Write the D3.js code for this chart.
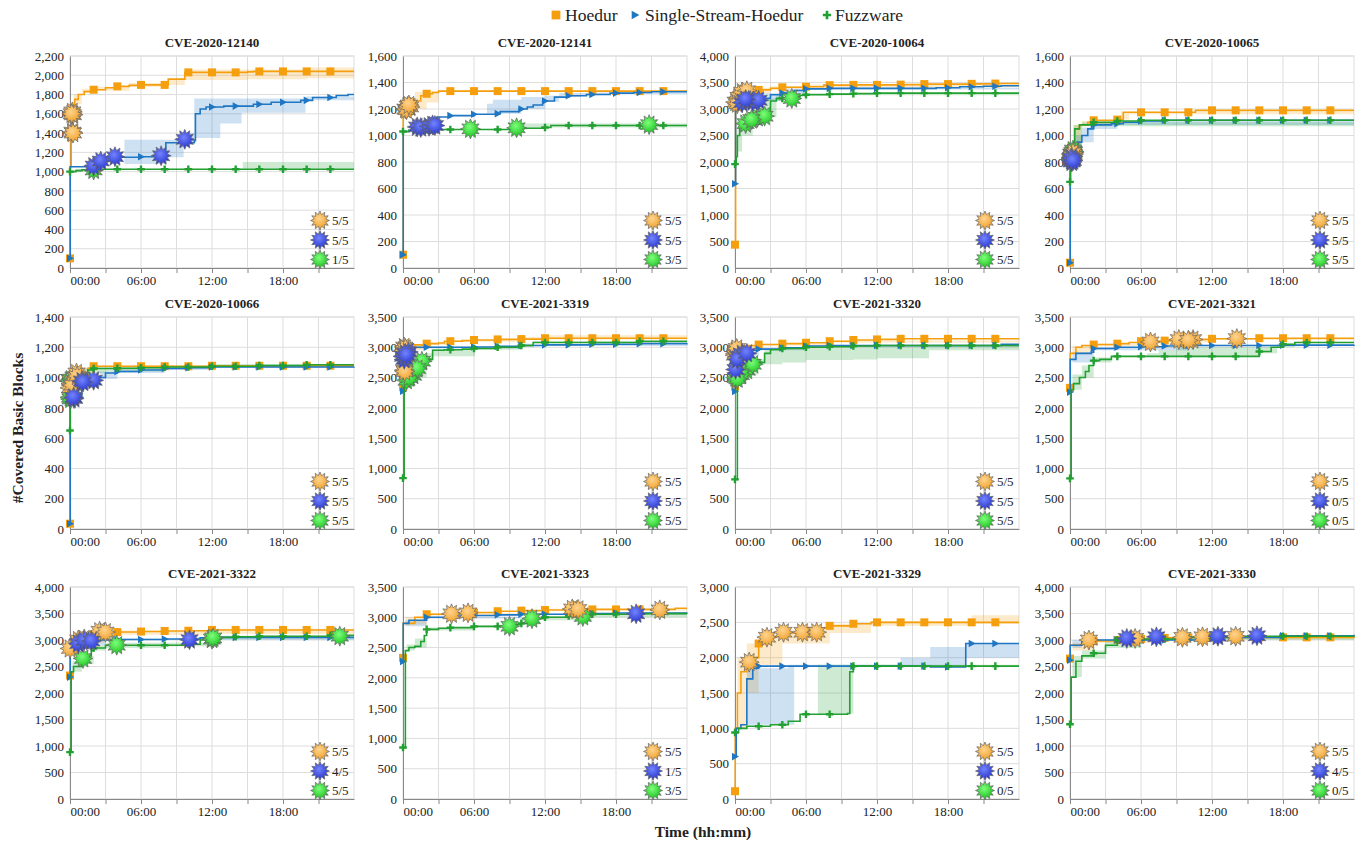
<!DOCTYPE html>
<html>
<head>
<meta charset="utf-8">
<script src="https://cdn.jsdelivr.net/npm/d3@7"></script>
<style>
body { margin: 0; background: #fff; }
svg, svg text { font-family: "Liberation Serif", "DejaVu Serif", "Times New Roman", serif; }
svg text { fill: #222; }
</style>
</head>
<body>
<svg id="chart" width="1361" height="841" font-family="Liberation Serif, DejaVu Serif, serif"></svg>
<script>
// ---- data (hours, covered basic blocks) ----
var panelNames = ['CVE-2020-12140', 'CVE-2020-12141', 'CVE-2020-10064', 'CVE-2020-10065',
  'CVE-2020-10066', 'CVE-2021-3319', 'CVE-2021-3320', 'CVE-2021-3321',
  'CVE-2021-3322', 'CVE-2021-3323', 'CVE-2021-3329', 'CVE-2021-3330'];
var yMaxes = [2200, 1600, 4000, 1600, 1400, 3500, 3500, 3500, 4000, 3500, 3000, 4000];
var ySteps = [200, 200, 500, 200, 200, 500, 500, 500, 500, 500, 500, 500];
var seriesNames = ['Hoedur', 'Single-Stream-Hoedur', 'Fuzzware'];
var xTickHours = [0, 3, 6, 9, 12, 15, 18, 21];
var markerHours = [0, 2, 4, 6, 8, 10, 12, 14, 16, 18, 20, 22];

// median coverage lines [hour, value]
var hoedurLines = [
  [[0,100],[0.02,1050],[0.1,1400],[0.2,1600],[0.4,1750],[0.7,1800],[1.2,1830],[2,1850],[3,1870],[4,1885],[5,1895],[6,1900],[8.3,1960],[9.7,2030],[15,2035],[15.5,2040],[24,2040]],
  [[0,100],[0.02,1200],[0.5,1220],[1,1260],[1.5,1300],[2,1315],[2.5,1325],[3,1335],[24,1335]],
  [[0,440],[0.05,3100],[0.3,3250],[0.7,3330],[1.2,3350],[2,3360],[3,3390],[4,3410],[6,3420],[7.5,3450],[10,3455],[14,3460],[16,3470],[20,3475],[22,3480],[24,3480]],
  [[0,40],[0.02,800],[0.2,900],[0.4,1050],[0.8,1080],[1.5,1100],[2,1115],[4,1120],[4.5,1175],[10.6,1190],[24,1190]],
  [[0,35],[0.02,900],[0.3,950],[0.5,1000],[1,1030],[1.5,1060],[1.9,1075],[12,1078],[24,1078]],
  [[0,2340],[0.02,2900],[0.3,3000],[1,3040],[2,3060],[3,3070],[3.5,3100],[5,3110],[6,3120],[8,3130],[10,3135],[12,3150],[24,3150]],
  [[0,2350],[0.02,2950],[0.5,3000],[1,3030],[2,3045],[4,3060],[6,3075],[8,3100],[10,3120],[12,3130],[14,3140],[24,3145]],
  [[0,2330],[0.02,2900],[0.5,3000],[1,3030],[2,3045],[4,3060],[5,3080],[6,3100],[8,3110],[10,3130],[12,3140],[16,3150],[24,3150]],
  [[0,2330],[0.02,2800],[0.5,2900],[1,3000],[1.5,3050],[2,3100],[3,3150],[6,3160],[8,3170],[10,3175],[12,3190],[24,3190]],
  [[0,2330],[0.02,2900],[1,3000],[2,3050],[4,3070],[6,3080],[8,3100],[10,3110],[12,3120],[14,3130],[23,3150],[24,3150]],
  [[0,110],[0.02,1000],[0.2,1500],[0.5,1800],[1,1900],[1.5,2000],[2,2200],[3,2300],[4,2350],[6,2380],[7,2420],[8,2450],[10,2480],[11.5,2500],[24,2500]],
  [[0,2650],[0.02,2900],[1,2950],[2,2980],[4,3000],[6,3020],[8,3040],[10,3050],[24,3060]]
];
var sshLines = [
  [[0,100],[0.02,1050],[1.5,1060],[2,1080],[2.3,1110],[3,1140],[4,1150],[6,1155],[7.9,1160],[8.1,1300],[10.5,1320],[10.6,1600],[11,1650],[11.5,1670],[13,1680],[15.5,1700],[17,1720],[19.5,1740],[20.5,1770],[22.5,1790],[23.5,1800],[24,1800]],
  [[0,100],[0.02,1030],[0.5,1040],[1.5,1050],[2.5,1070],[2.9,1140],[4,1150],[6,1160],[7.8,1165],[8.2,1180],[9.8,1200],[10.5,1215],[11,1230],[11.8,1260],[12.8,1290],[14,1300],[15.5,1310],[17.5,1320],[19.5,1325],[21,1330],[24,1330]],
  [[0,1590],[0.05,3000],[0.3,3100],[1,3150],[2,3200],[3,3270],[4,3300],[5,3350],[6,3380],[8,3390],[17,3400],[19,3420],[21,3430],[22.5,3440],[24,3440]],
  [[0,40],[0.02,800],[0.3,900],[0.6,950],[1,1000],[1.5,1050],[2,1080],[3.5,1090],[4.5,1100],[6,1110],[8,1115],[24,1115]],
  [[0,35],[0.02,850],[0.5,870],[1,950],[2,980],[2.5,1000],[3,1030],[4,1040],[6,1050],[8,1060],[10,1065],[12,1070],[24,1072]],
  [[0,2275],[0.05,2950],[1,3000],[6,3005],[8,3015],[10,3030],[12,3040],[16,3050],[20,3060],[24,3065]],
  [[0,2270],[0.02,2900],[1,2950],[2,2970],[4,2990],[6,3020],[8,3030],[22.5,3050],[24,3050]],
  [[0,2260],[0.02,2800],[0.5,2900],[1.8,2920],[2,2980],[4,3000],[6,3010],[8,3020],[10,3030],[18,3035],[24,3040]],
  [[0,2300],[0.02,3000],[4,3010],[8,3020],[11,3040],[12,3050],[24,3050]],
  [[0,2270],[0.02,2900],[0.5,2950],[2,3000],[4,3020],[6,3030],[8,3040],[10,3050],[16,3060],[18,3070],[24,3080]],
  [[0,600],[0.1,1000],[0.5,1050],[1,1700],[1.5,1850],[2,1880],[16.5,1870],[19.5,2200],[24,2200]],
  [[0,2620],[0.02,2900],[1,3000],[12,3050],[18,3080],[24,3100]]
];
var fuzzLines = [
  [[0,1000],[0.5,1010],[1,1020],[2,1025],[24,1025]],
  [[0,1030],[0.5,1040],[2,1045],[9.5,1055],[12,1060],[12.5,1075],[24,1075]],
  [[0,1960],[0.1,2100],[0.2,2500],[0.4,2650],[0.7,2720],[1,2750],[1.4,2800],[2,2850],[2.5,2900],[3,3150],[3.5,3200],[4.5,3230],[5.5,3260],[6,3270],[8,3280],[10,3290],[12,3300],[24,3300]],
  [[0,650],[0.05,850],[0.2,900],[0.4,1050],[0.8,1080],[2,1100],[4,1110],[6,1115],[24,1115]],
  [[0,650],[0.02,850],[0.3,980],[0.8,1000],[1.5,1050],[2,1060],[4,1062],[6,1065],[8,1070],[12,1075],[16,1080],[20,1085],[24,1085]],
  [[0,840],[0.1,2400],[0.5,2450],[1,2550],[1.5,2700],[2,2800],[2.5,2950],[3.5,2960],[5,2970],[6,2980],[8,3000],[10,3030],[11,3080],[20,3100],[24,3100]],
  [[0,820],[0.2,2450],[0.5,2500],[1,2600],[1.5,2700],[2,2750],[2.5,2900],[3,2960],[4,2980],[6,3000],[8,3010],[10,3020],[12,3030],[24,3030]],
  [[0,836],[0.1,2300],[0.3,2400],[0.8,2500],[1.3,2600],[1.6,2700],[2,2780],[2.5,2800],[3.5,2850],[15.5,2850],[16,2930],[17,3000],[18,3050],[19,3080],[24,3080]],
  [[0,884],[0.1,2400],[0.3,2500],[1,2600],[1.5,2700],[1.8,2800],[2,2850],[3,2900],[10,2920],[11,3000],[12,3050],[14,3060],[16,3070],[22,3090],[24,3090]],
  [[0,849],[0.2,2450],[0.5,2500],[1,2520],[1.5,2600],[1.8,2700],[2,2800],[3,2820],[4,2830],[6,2850],[9,2880],[10,2900],[10.5,2980],[12,3000],[14,3020],[16,3050],[20,3060],[24,3060]],
  [[0,940],[0.3,1000],[1,1030],[3,1050],[4.5,1100],[5.5,1200],[9.5,1210],[9.7,1800],[10,1880],[24,1880]],
  [[0,1410],[0.1,2300],[0.5,2600],[1,2700],[2,2750],[3,2900],[4,3000],[6,3020],[10,3050],[14,3070],[24,3080]]
];

// min/max bands over the runs [hour, low, high]
var hoedurBands = [
  [[0.3,1700,1800],[1,1820,1860],[2,1840,1880],[5,1880,1920],[8.3,1900,1960],[9.7,1950,2060],[15,1960,2060],[20,1970,2080],[24,1970,2080]],
  [[0.3,1180,1230],[1,1200,1330],[2,1250,1335],[3,1330,1340],[24,1330,1340]],
  [[0.3,3150,3350],[1,3300,3400],[3,3380,3430],[6,3410,3460],[24,3450,3500]],
  [[0.3,900,1080],[1,1080,1110],[4.3,1120,1175],[5,1160,1180],[24,1180,1195]],
  [[0.3,920,1020],[1,1000,1070],[2,1070,1080],[24,1070,1085]],
  [[0.3,2950,3050],[2,3040,3080],[4,3090,3120],[10,3120,3170],[12,3130,3200],[24,3130,3210]],
  [[0.3,2950,3030],[2,3030,3060],[8,3080,3110],[24,3130,3150]],
  [[0.2,2900,3020],[2,3020,3060],[6,3080,3120],[12,3120,3150],[24,3140,3160]],
  [[0.2,2800,2950],[1,2950,3050],[3,3100,3180],[12,3120,3210],[24,3130,3210]],
  [[0.2,2880,3000],[2,3030,3070],[12,3110,3140],[24,3120,3160]],
  [[0.2,1000,2000],[1,1500,2200],[2,1900,2300],[4,2200,2400],[8,2350,2480],[11.5,2450,2520],[20,2480,2600],[24,2480,2600]],
  [[0.2,2800,2950],[2,2950,3000],[8,3020,3060],[24,3040,3080]]
];
var sshBands = [
  [[4.6,1080,1330],[8.2,1150,1330],[9.6,1300,1400],[10.5,1350,1760],[12.7,1500,1760],[14.5,1610,1760],[19.9,1740,1780],[24,1780,1810]],
  [[7.1,1165,1240],[7.6,1165,1270],[10,1200,1290],[12,1255,1300],[13.2,1290,1320],[15,1300,1320],[16,1310,1325],[24,1320,1335]],
  [[0.3,3050,3200],[2,3150,3300],[4,3280,3380],[6,3370,3400],[24,3400,3450]],
  [[0.5,900,1000],[1,950,1060],[2,1050,1100],[4,1080,1110],[24,1110,1120]],
  [[0.5,860,980],[1,940,1000],[2.5,990,1040],[4,1030,1060],[8,1050,1070],[12,1065,1075],[24,1068,1078]],
  [[0.2,2900,3010],[1,2980,3010],[10,3020,3040],[24,3040,3080]],
  [[0.3,2850,2960],[2,2950,2990],[6,3010,3030],[24,3030,3060]],
  [[0.2,2750,2920],[2,2950,3000],[10,3020,3040],[24,3030,3050]],
  [[0.2,2900,3020],[3,3000,3030],[10,3000,3060],[24,3040,3060]],
  [[0.2,2850,2950],[2,2980,3010],[10,3040,3060],[24,3060,3090]],
  [[1,1050,1850],[4.5,1050,1900],[5,1880,1900],[14,1880,2000],[16.5,1880,2150],[19.5,2000,2200],[24,2200,2200]],
  [[0.2,2850,3000],[1,2980,3020],[12,3040,3070],[24,3070,3110]]
];
var fuzzBands = [
  [[0.5,1000,1030],[2,1020,1030],[14.6,1020,1100],[24,1020,1100]],
  [[9.6,1050,1090],[12,1060,1090],[24,1070,1090]],
  [[0.2,2200,2800],[0.6,2500,2900],[1.5,2700,3000],[2.5,2850,3200],[3.5,3150,3250],[5,3230,3280],[6,3260,3300],[24,3280,3310]],
  [[0.3,900,1080],[1,1070,1100],[24,1110,1120]],
  [[0.3,950,1010],[1,990,1060],[1.5,1030,1070],[3,1040,1075],[8,1060,1080],[12,1070,1090],[24,1075,1095]],
  [[0.2,2350,2500],[1,2500,2700],[2,2750,2900],[2.5,2850,2970],[6.1,2960,2990],[10,3010,3060],[11,3070,3100],[24,3080,3110]],
  [[0.3,2450,2600],[1,2550,2720],[2,2700,2800],[2.5,2720,2950],[4,2750,2990],[6,2790,3000],[10,2800,3020],[12,2820,3030],[16.4,2950,3040],[24,2980,3040]],
  [[0.2,2300,2550],[1,2500,2700],[2,2750,2830],[3.5,2840,2860],[6.5,2850,2900],[7.5,2850,2950],[9,2850,3000],[16,2900,3010],[17.5,3000,3060],[19,3070,3090],[24,3070,3090]],
  [[0.2,2400,2600],[1,2550,2700],[2,2800,2900],[3,2850,2950],[8,2880,2950],[12,3030,3080],[24,3060,3100]],
  [[0.3,2450,2550],[1,2500,2650],[2,2780,2830],[6,2830,2860],[9,2850,2900],[10,2880,3000],[11.5,2950,3020],[16,3000,3060],[24,3000,3070]],
  [[7,1200,1900],[9.6,1210,1900],[10,1880,1900],[24,1870,1890]],
  [[0.2,2300,2700],[1,2650,2800],[3,2850,3000],[6,3000,3040],[24,3060,3090]]
];

// moments the bug was triggered [hour, value]
var hoedurStars = [
  [[0.2,1620],[0.25,1590],[0.15,1600],[0.2,1410],[0.25,1400]],
  [[0.2,1200],[0.4,1220],[0.6,1215],[0.3,1195],[0.5,1230]],
  [[0.05,3130],[0.3,3220],[0.6,3320],[1.0,3345],[0.2,3100]],
  [[0.2,850],[0.3,860],[0.1,830],[0.25,870],[0.15,840]],
  [[0,932],[0.55,1030],[0.3,980],[0.2,950],[0.6,1010]],
  [[0.1,2621],[0.1,3005],[0.05,2950],[0.15,2600],[0.2,2980]],
  [[0.05,2900],[0.1,2950],[0.2,2920],[0,2870],[0.15,2980]],
  [[6.8,3088],[9.2,3127],[10.4,3127],[10.0,3115],[14.1,3143]],
  [[0,2840],[0.7,3000],[1.2,3020],[2.5,3165],[3.0,3150]],
  [[4.1,3057],[5.5,3073],[14.3,3138],[14.8,3130],[21.7,3122]],
  [[1.2,1937],[2.7,2290],[4.1,2360],[5.7,2360],[6.9,2360]],
  [[1.6,3000],[5.5,3030],[9.5,3050],[11.2,3060],[14,3070]]
];
var sshStars = [
  [[2.0,1058],[2.6,1110],[3.8,1155],[7.7,1165],[9.7,1335]],
  [[1.2,1065],[1.5,1060],[2.2,1070],[2.5,1080],[2.7,1075]],
  [[0.6,3120],[1.15,3165],[1.5,3140],[2.0,3165],[0.9,3180]],
  [[0.1,813],[0.15,800],[0.2,820],[0.1,830],[0.25,810]],
  [[0.35,862],[1.0,978],[2.0,982],[0.3,870],[1.1,970]],
  [[0.45,2923],[0.1,2800],[0,2850],[0.2,2900],[0.3,2870]],
  [[0.05,2633],[0.6,2896],[0.3,2850],[0.2,2800],[1.0,2900]],
  [],
  [[0.7,2934],[1.2,2990],[1.8,2980],[10.1,3006]],
  [[19.7,3057]],
  [],
  [[4.8,3030],[7.3,3060],[12.5,3070],[15.8,3080]]
];
var fuzzStars = [
  [[2.0,1017]],
  [[5.7,1050],[9.6,1058],[20.8,1082]],
  [[0.9,2725],[1.9,2840],[2.5,2865],[4.8,3198],[1.4,2800]],
  [[0.3,880],[0.2,870],[0.1,860],[0.25,890],[0.35,875]],
  [[0,982],[0.05,858],[0.1,990],[0,870],[0.1,960]],
  [[0.3,2456],[0.85,2539],[1.6,2770],[0.5,2500],[1.2,2650]],
  [[0.05,2500],[1.0,2621],[1.5,2720],[0.5,2550],[0.2,2480]],
  [],
  [[1.1,2652],[3.95,2903],[12,3016],[22.8,3072],[12.1,3040]],
  [[9.0,2852],[10.9,2977],[15.2,3014]],
  [],
  []
];
var foundCounts = [
  ['5/5','5/5','1/5'], ['5/5','5/5','3/5'], ['5/5','5/5','5/5'], ['5/5','5/5','5/5'],
  ['5/5','5/5','5/5'], ['5/5','5/5','5/5'], ['5/5','5/5','5/5'], ['5/5','0/5','0/5'],
  ['5/5','4/5','5/5'], ['5/5','1/5','3/5'], ['5/5','0/5','0/5'], ['5/5','4/5','0/5']
];

// ---- layout ----
var colX = [70, 403, 735, 1070];
var rowY = [56, 317, 587];
var W = 284, H = 212;
var serif = 'Liberation Serif, DejaVu Serif, serif';
var colors = ['#f59f0f', '#1f76c2', '#22a031'];
var starGrad = [['#ffd48f', '#ee9a1c'], ['#7383ff', '#1f2ec6'], ['#7dff7a', '#12bd17']];

var svg = d3.select('#chart');
var defs = svg.append('defs');
starGrad.forEach(function(c, k) {
  var gr = defs.append('radialGradient').attr('id', 'sg' + k)
    .attr('cx', '45%').attr('cy', '40%').attr('r', '60%');
  gr.append('stop').attr('offset', '0%').attr('stop-color', c[0]);
  gr.append('stop').attr('offset', '100%').attr('stop-color', c[1]);
});

function starPath(ro, ri, n) {
  var p = [];
  for (var k = 0; k < 2 * n; k++) {
    var r = k % 2 ? ri : ro, a = Math.PI * k / n - Math.PI / 2;
    p.push((r * Math.cos(a)).toFixed(2) + ',' + (r * Math.sin(a)).toFixed(2));
  }
  return 'M' + p.join('L') + 'Z';
}
var starD = starPath(10, 6.3, 12);
var starSmall = starPath(9.5, 6, 12);

// marker shapes
var markerD = [
  'M-4,-4H4V4H-4Z',
  'M-3,-3.8L4,0L-3,3.8Z',
  'M-1.2,-3.8H1.2V-1.2H3.8V1.2H1.2V3.8H-1.2V1.2H-3.8V-1.2H-1.2Z'
];

function valueAt(line, h) {
  var v = line[0][1];
  line.forEach(function(d) { if (d[0] <= h) v = d[1]; });
  return v;
}

function hhmm(h) { return (h < 10 ? '0' : '') + h + ':00'; }

var fmt = d3.format(',');

panelNames.forEach(function(name, i) {
  var col = i % 4, row = Math.floor(i / 4);
  var g = svg.append('g').attr('transform', 'translate(' + colX[col] + ',' + rowY[row] + ')');
  var x = d3.scaleLinear().domain([0, 24]).range([0, W]);
  var y = d3.scaleLinear().domain([0, yMaxes[i]]).range([H, 0]);
  var yTicks = d3.range(0, yMaxes[i] + 1, ySteps[i]);

  // grid
  g.append('g').selectAll('line').data(yTicks).enter().append('line')
    .attr('x1', 0).attr('x2', W)
    .attr('y1', function(d) { return y(d); }).attr('y2', function(d) { return y(d); })
    .attr('stroke', '#ddd');
  g.append('g').selectAll('line').data(xTickHours.slice(1)).enter().append('line')
    .attr('x1', function(d) { return x(d); }).attr('x2', function(d) { return x(d); })
    .attr('y1', 0).attr('y2', H)
    .attr('stroke', '#ddd');
  g.append('rect').attr('width', W).attr('height', H)
    .attr('fill', 'none').attr('stroke', '#ddd');

  // axes
  var yAxis = d3.axisLeft(y).tickValues(yTicks).tickFormat(fmt).tickSize(0).tickPadding(6);
  var ya = g.append('g').call(yAxis).attr('font-family', serif).attr('font-size', 13);
  ya.select('.domain').attr('stroke', '#888');

  var xAxis = d3.axisBottom(x).tickValues(xTickHours)
    .tickFormat(function(d) { return d % 6 === 0 ? hhmm(d) : ''; })
    .tickSize(5).tickSizeOuter(0).tickPadding(3);
  var xa = g.append('g').attr('transform', 'translate(0,' + H + ')').call(xAxis)
    .attr('font-family', serif).attr('font-size', 13);
  xa.select('.domain').attr('stroke', '#888');
  xa.selectAll('.tick line').attr('stroke', '#888');
  xa.selectAll('.tick').filter(function(d) { return d === 0; })
    .select('text').attr('text-anchor', 'start');

  // title
  g.append('text').attr('x', W / 2).attr('y', -9)
    .attr('text-anchor', 'middle').attr('font-weight', 'bold').attr('font-size', 13)
    .attr('font-family', serif)
    .text(name);

  var lines = [hoedurLines[i], sshLines[i], fuzzLines[i]];
  var bands = [hoedurBands[i], sshBands[i], fuzzBands[i]];
  var stars = [hoedurStars[i], sshStars[i], fuzzStars[i]];

  var area = d3.area().curve(d3.curveStepAfter)
    .x(function(d) { return x(d[0]); })
    .y0(function(d) { return y(d[1]); })
    .y1(function(d) { return y(d[2]); });
  var line = d3.line().curve(d3.curveStepAfter)
    .x(function(d) { return x(d[0]); })
    .y(function(d) { return y(d[1]); });

  bands.forEach(function(b, k) {
    g.append('path').attr('d', area(b)).attr('fill', colors[k]).attr('fill-opacity', 0.22);
  });

  lines.forEach(function(l, k) {
    g.append('path').attr('d', line(l)).attr('fill', 'none')
      .attr('stroke', colors[k]).attr('stroke-width', 1.6);
    g.append('g').selectAll('path').data(markerHours).enter().append('path')
      .attr('d', markerD[k])
      .attr('transform', function(h) { return 'translate(' + x(h) + ',' + y(valueAt(l, h)) + ')'; })
      .attr('fill', colors[k]);
  });

  // bug-found stars: green first, blue on top
  [2, 0, 1].forEach(function(k) {
    g.append('g').selectAll('path').data(stars[k]).enter().append('path')
      .attr('d', starD)
      .attr('transform', function(d) { return 'translate(' + x(d[0]) + ',' + y(d[1]) + ')'; })
      .attr('fill', 'url(#sg' + k + ')')
      .attr('stroke', '#666').attr('stroke-width', 0.7);
  });

  // found-count legend
  var leg = g.append('g');
  foundCounts[i].forEach(function(c, k) {
    var ly = H - 47.5 + k * 19.5;
    leg.append('path').attr('d', starSmall)
      .attr('transform', 'translate(' + (W - 34) + ',' + ly + ')')
      .attr('fill', 'url(#sg' + k + ')')
      .attr('stroke', '#666').attr('stroke-width', 0.7);
    leg.append('text').attr('x', W - 22).attr('y', ly + 4.5)
      .attr('font-size', 13).attr('font-family', serif).text(c);
  });
});

// axis titles
svg.append('text')
  .attr('transform', 'translate(23,428) rotate(-90)')
  .attr('text-anchor', 'middle').attr('font-weight', 'bold').attr('font-size', 15.5)
  .attr('font-family', serif)
  .text('#Covered Basic Blocks');
svg.append('text').attr('x', 703).attr('y', 837)
  .attr('text-anchor', 'middle').attr('font-weight', 'bold').attr('font-size', 15.5)
  .attr('font-family', serif)
  .text('Time (hh:mm)');

// series legend on top
var legendPos = [[556, 565], [635, 645], [827, 835]];
seriesNames.forEach(function(s, k) {
  svg.append('path').attr('d', markerD[k])
    .attr('transform', 'translate(' + legendPos[k][0] + ',15) scale(1.1)')
    .attr('fill', colors[k]);
  svg.append('text').attr('x', legendPos[k][1]).attr('y', 20.5)
    .attr('font-size', 17.5).attr('font-family', serif).text(s);
});
</script>
</body>
</html>
